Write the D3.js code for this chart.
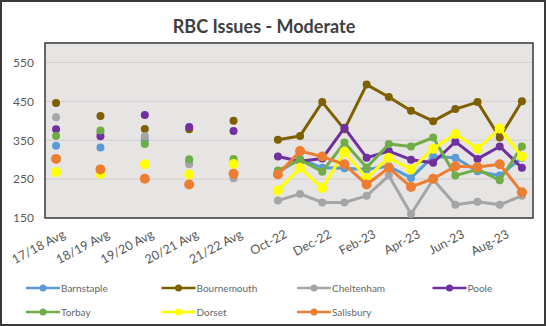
<!DOCTYPE html>
<html lang="en">
<head>
<meta charset="UTF-8">
<title>RBC Issues - Moderate</title>
<style>
    body { margin: 0; background: #fff; }
    svg { display: block; }
    text { font-family: Lato, "Open Sans", sans-serif; fill: #595959; }
</style>
</head>
<body>
<svg width="546" height="326"></svg>
<script src="https://d3js.org/d3.v7.min.js"></script>
<script>
// categories, with blank slots between the yearly averages (as in the source sheet)
const categories = ["17/18 Avg", "", "18/19 Avg", "", "19/20 Avg", "", "20/21 Avg", "", "21/22 Avg", "",
    "Oct-22", "Nov-22", "Dec-22", "Jan-23", "Feb-23", "Mar-23", "Apr-23", "May-23", "Jun-23", "Jul-23", "Aug-23", "Sep-23"];

const yTicks = [150, 250, 350, 450, 550];

// values per series (null = blank slot)
const barnstaple  = [336, null, 331, null, 350, null, 295, null, 295, null, 268, 302, 279, 278, 275, 283, 253, 308, 305, 270, 259, 305];
const bournemouth = [446, null, 412, null, 379, null, 378, null, 400, null, 351, 361, 448, 378, 493, 461, 426, 399, 430, 448, 357, 450];
const cheltenham  = [409, null, 370, null, 360, null, 288, null, 252, null, 195, 212, 190, 190, 207, 259, 160, 249, 184, 192, 184, 207];
const poole       = [378, null, 360, null, 415, null, 384, null, 374, null, 308, 296, 303, 382, 305, 322, 300, 292, 346, 302, 334, 279];
const torbay      = [361, null, 375, null, 340, null, 301, null, 302, null, 272, 300, 269, 344, 280, 340, 334, 357, 259, 275, 247, 334];
const dorset      = [268, null, 263, null, 288, null, 262, null, 289, null, 221, 279, 227, 320, 253, 305, 275, 328, 366, 328, 380, 308];
const salisbury   = [302, null, 275, null, 251, null, 236, null, 264, null, 262, 322, 308, 288, 236, 279, 230, 251, 283, 281, 288, 216];

const series = [
    { name: "Barnstaple",  values: barnstaple,  color: "#5b9bd5", r: 4 },
    { name: "Bournemouth", values: bournemouth, color: "#7f6000", r: 4 },
    { name: "Cheltenham",  values: cheltenham,  color: "#a5a5a5", r: 4 },
    { name: "Poole",       values: poole,       color: "#7030a0", r: 4 },
    { name: "Torbay",      values: torbay,      color: "#70ad47", r: 4 },
    { name: "Dorset",      values: dorset,      color: "#ffff00", r: 5 },
    { name: "Salisbury",   values: salisbury,   color: "#ed7d31", r: 5 }
];

const svg = d3.select("svg");
const plot = { left: 45, right: 533, top: 43, bottom: 218 };

// outer frame
svg.append("rect")
    .attr("x", 1).attr("y", 1).attr("width", 544).attr("height", 324)
    .attr("fill", "#fff").attr("stroke", "#3a3a3a").attr("stroke-width", 2);

svg.append("text")
    .attr("x", 264).attr("y", 33)
    .attr("text-anchor", "middle")
    .style("font-size", "18px").style("font-weight", "bold").style("fill", "#404040")
    .text("RBC Issues - Moderate");

const x = d3.scaleBand()
    .domain(d3.range(categories.length))
    .range([plot.left, plot.right]);

const y = d3.scaleLinear()
    .domain([150, 600])
    .range([plot.bottom, plot.top]);

// plot area
svg.append("rect")
    .attr("x", plot.left).attr("y", plot.top)
    .attr("width", plot.right - plot.left).attr("height", plot.bottom - plot.top)
    .attr("fill", "#e7e4e4");

// gridlines
svg.append("g")
    .selectAll("line")
    .data(yTicks)
    .join("line")
    .attr("x1", plot.left).attr("x2", plot.right)
    .attr("y1", d => y(d)).attr("y2", d => y(d))
    .attr("stroke", "#d2cfcf").attr("stroke-width", 1);

svg.append("rect")
    .attr("x", plot.left).attr("y", plot.top)
    .attr("width", plot.right - plot.left).attr("height", plot.bottom - plot.top)
    .attr("fill", "none").attr("stroke", "#3a3a3a").attr("stroke-width", 1.5);

// y axis labels
const yAxis = svg.append("g")
    .attr("transform", `translate(${plot.left - 11},0)`)
    .call(d3.axisLeft(y).tickValues(yTicks).tickSize(0).tickPadding(0));
yAxis.select(".domain").remove();
yAxis.selectAll("text").style("font-size", "12px").style("fill", "#595959")
    .style("font-family", "Lato, sans-serif");

// x axis labels, every other category
const xAxis = svg.append("g")
    .attr("transform", `translate(0,${plot.bottom})`)
    .call(d3.axisBottom(x).tickSize(0)
        .tickValues(d3.range(0, categories.length, 2))
        .tickFormat(i => categories[i]));
xAxis.select(".domain").remove();
xAxis.selectAll("text")
    .style("font-size", "12.5px").style("fill", "#595959").style("font-family", "Lato, sans-serif")
    .attr("text-anchor", "end")
    .attr("dy", "0.35em")
    .attr("transform", "translate(8,15) rotate(-28)")
    .attr("y", 0).attr("x", 0);

const cx = i => x(i) + x.bandwidth() / 2;

const line = d3.line()
    .defined(d => d != null)
    .x((d, i) => cx(i))
    .y(d => y(d));

const g = svg.append("g");
series.forEach(s => {
    g.append("path")
        .attr("d", line(s.values))
        .attr("fill", "none")
        .attr("stroke", s.color)
        .attr("stroke-width", 3)
        .attr("stroke-linejoin", "round");
    g.selectAll(null)
        .data(s.values.map((v, i) => ({ v, i })).filter(d => d.v != null))
        .join("circle")
        .attr("cx", d => cx(d.i))
        .attr("cy", d => y(d.v))
        .attr("r", s.r)
        .attr("fill", s.color);
});

// legend, 4 columns x 2 rows
const legend = svg.append("g");
series.forEach((s, k) => {
    const lx = 26 + (k % 4) * 135.5;
    const ly = 288 + Math.floor(k / 4) * 24;
    const item = legend.append("g").attr("transform", `translate(${lx},${ly})`);
    item.append("line")
        .attr("x1", 0).attr("x2", 34)
        .attr("stroke", s.color).attr("stroke-width", 2.5);
    item.append("circle").attr("cx", 17).attr("r", 3.5).attr("fill", s.color);
    item.append("text")
        .attr("x", 35).attr("dy", "0.35em")
        .style("font-size", "10px").style("fill", "#666")
        .text(s.name);
});
</script>
</body>
</html>
